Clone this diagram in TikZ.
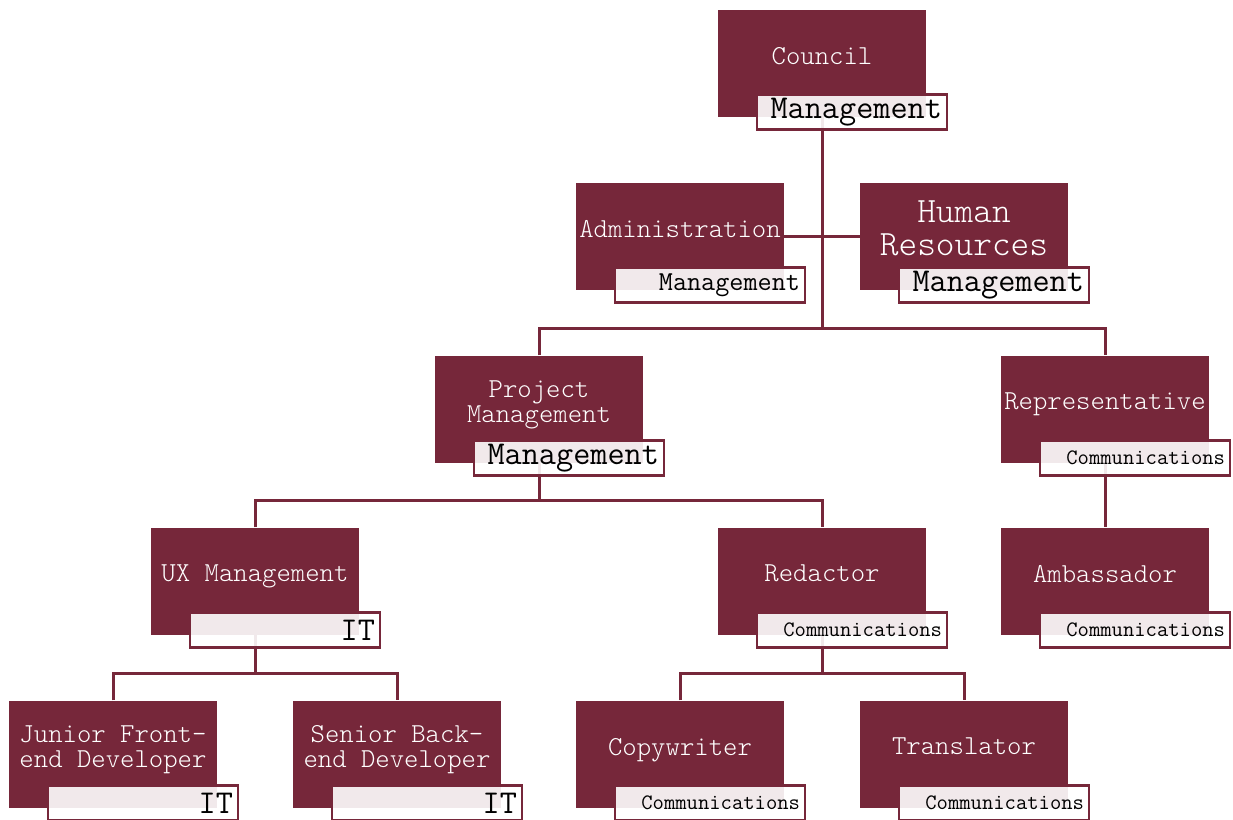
\documentclass[tikz,border=0pt]{standalone}
\usepackage{tikz}
\usetikzlibrary{positioning}
\definecolor{wine}{RGB}{118,39,58}
\tikzset{
 box/.style
  = {rectangle, fill=wine, text=white, minimum width=208pt, minimum height=107pt,
     inner sep=2pt, align=center,
     font=\ttfamily\fontseries{l}\fontsize{27.4}{25}\selectfont,
     execute at end node=\rule[-15pt]{0pt}{0pt}},
 bigbox/.style
  = {box, font=\ttfamily\fontseries{l}\fontsize{35.6}{33}\selectfont},
 tag/.style
  = {rectangle, draw=wine, line width=2.4pt, fill=white, fill opacity=0.9, text opacity=1,
     text=black, minimum height=35pt, text width=180pt, inner xsep=5pt, inner ysep=0pt,
     align=right, anchor=south east, font=\ttfamily\fontsize{33.3}{36}\selectfont},
 tagm/.style
  = {tag, font=\ttfamily\fontsize{27.4}{30}\selectfont},
 tagc/.style
  = {tag, font=\ttfamily\fontsize{22}{24}\selectfont},
 l/.style
  = {draw=wine, line width=3pt},
}

\begin{document}
\begin{tikzpicture}[x=1pt,y=-1pt]
\useasboundingbox (0,0) rectangle (1233,819);

% Boxes
\node[box] (council) at (822,63) {Council};
\node[box] (admin) at (680,236) {Administration};
\node[bigbox] (hr) at (964,236) {Human\\Resources};
\node[box] (project) at (539,409) {Project\\Management};
\node[box] (rep) at (1105,409) {Representative};
\node[box] (ux) at (255,581) {UX Management};
\node[box] (redactor) at (822,581) {Redactor};
\node[box] (amb) at (1105,581) {Ambassador};
\node[box] (junior) at (113,754) {Junior Front-\\end Developer};
\node[box] (senior) at (397,754) {Senior Back-\\end Developer};
\node[box] (copy) at (680,754) {Copywriter};
\node[box] (trans) at (964,754) {Translator};

% Junctions
\coordinate (j1) at (822,328);
\coordinate (j2) at (539,500);
\coordinate (j3) at (255,673);
\coordinate (j4) at (822,673);

% Lines
\draw[l] (council) -- (j1);
\draw[l] (admin) -- (hr);
\draw[l] (project.north) |- (j1) -| (rep.north);
\draw[l] (project) -- (j2);
\draw[l] (ux.north) |- (j2) -| (redactor.north);
\draw[l] (rep) -- (amb);
\draw[l] (ux) -- (j3);
\draw[l] (junior.north) |- (j3) -| (senior.north);
\draw[l] (redactor) -- (j4);
\draw[l] (copy.north) |- (j4) -| (trans.north);

% Tags
\node[tag] (tcouncil) at ([xshift=22pt,yshift=-14pt]council.south east) {Management};
\node[tagm] (tadmin) at ([xshift=22pt,yshift=-14pt]admin.south east) {Management};
\node[tag] (thr) at ([xshift=22pt,yshift=-14pt]hr.south east) {Management};
\node[tag] (tproject) at ([xshift=22pt,yshift=-14pt]project.south east) {Management};
\node[tagc] (trep) at ([xshift=22pt,yshift=-14pt]rep.south east) {Communications};
\node[tag] (tux) at ([xshift=22pt,yshift=-14pt]ux.south east) {IT};
\node[tagc] (tredactor) at ([xshift=22pt,yshift=-14pt]redactor.south east) {Communications};
\node[tagc] (tamb) at ([xshift=22pt,yshift=-14pt]amb.south east) {Communications};
\node[tag] (tjunior) at ([xshift=22pt,yshift=-14pt]junior.south east) {IT};
\node[tag] (tsenior) at ([xshift=22pt,yshift=-14pt]senior.south east) {IT};
\node[tagc] (tcopy) at ([xshift=22pt,yshift=-14pt]copy.south east) {Communications};
\node[tagc] (ttrans) at ([xshift=22pt,yshift=-14pt]trans.south east) {Communications};

\end{tikzpicture}
\end{document}
